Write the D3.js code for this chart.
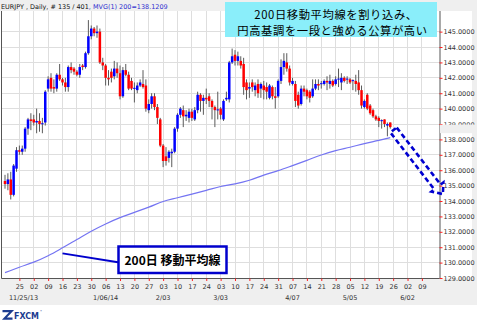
<!DOCTYPE html>
<html><head><meta charset="utf-8">
<script src="https://cdn.jsdelivr.net/npm/d3@7/dist/d3.min.js"></script>
<style>
html,body{margin:0;padding:0;background:#fff;}
svg{display:block;}
</style></head><body>
<svg id="c" width="477" height="326"></svg>
<script>
// ---------------- DATA ----------------
const symbolText = "EURJPY , Daily, # 135 / 401";
const mvgText = ", MVG(1) 200=138.1209";
const startDate = "2013-11-18";   // first bar (weekdays only)
const opens = [135.3,135.1,135.4,134.4,136.1,137.3,137.2,137.4,138.7,139.3,139.3,139.1,139.2,139.0,139.1,141.3,142.0,141.4,141.3,142.2,
141.9,141.7,141.4,142.7,142.6,142.4,142.2,142.8,142.7,143.6,144.7,145.2,144.9,145.0,143.0,142.8,142.0,142.4,142.1,142.6,
142.3,140.8,142.5,142.2,141.8,141.3,141.2,141.5,141.6,141.5,139.9,140.3,140.8,140.1,139.3,137.6,136.9,136.8,137.1,137.2,
138.7,139.6,139.9,139.5,139.4,139.8,139.3,139.9,140.9,140.5,140.7,140.8,140.5,140.1,139.9,140.0,139.3,140.6,140.6,143.0,
143.5,143.1,143.1,142.9,141.7,141.3,141.7,141.2,141.6,141.3,141.5,141.4,140.7,141.4,140.8,140.8,141.8,142.7,143.0,142.6,
141.6,141.6,140.9,140.3,141.3,141.2,141.1,140.8,141.3,141.6,141.6,141.6,141.8,141.6,141.8,141.6,141.9,141.7,142.0,141.9,
141.9,141.8,141.8,141.7,141.2,140.1,140.9,140.2,139.9,139.5,139.4,139.2,139.3,138.9,139.1];
const highs = [135.7,135.8,135.9,136.4,137.5,137.6,137.6,138.8,139.4,139.7,139.6,140.0,139.7,139.4,141.2,142.1,142.3,141.9,142.3,142.9,
142.0,142.0,142.8,143.0,142.7,142.5,142.9,142.9,143.7,145.75,145.4,145.3,145.4,145.2,143.3,142.9,142.5,142.6,143.1,143.0,
142.8,142.7,142.9,142.4,142.0,141.7,141.7,141.9,142.5,141.9,140.6,141.0,141.0,140.3,139.4,137.7,137.5,137.3,137.4,138.8,
139.7,140.1,140.2,139.9,140.0,140.0,140.1,141.1,141.0,140.9,141.3,141.0,140.6,140.2,141.1,140.1,140.6,141.1,143.1,143.9,
143.8,143.7,143.4,143.3,141.9,141.7,141.9,141.7,141.9,141.7,141.8,141.7,141.6,141.5,141.4,141.9,143.2,143.6,143.6,142.8,
142.0,141.8,141.1,141.5,141.5,141.3,141.2,141.9,141.9,141.9,141.8,141.9,142.1,142.2,141.9,142.1,142.6,142.3,142.1,142.1,
142.0,141.9,142.2,142.5,141.5,140.6,141.0,140.3,140.0,139.6,139.5,139.3,139.3,139.1,139.1];
const lows = [134.8,134.7,134.1,134.3,135.9,137.0,137.0,137.2,138.3,138.6,138.9,138.4,138.5,138.4,138.9,141.1,141.1,141.0,141.1,141.8,
141.5,141.1,141.1,142.3,142.2,142.1,142.0,142.5,142.6,143.5,144.5,144.7,144.6,142.9,142.5,141.5,141.5,141.7,141.9,142.0,
140.6,140.7,142.1,141.2,141.2,140.4,141.0,141.4,141.3,139.8,139.7,140.0,139.9,139.0,137.5,136.2,136.3,136.5,136.2,137.1,
138.5,139.4,138.8,139.2,139.1,139.2,139.2,139.7,139.8,139.6,140.3,140.1,139.3,138.8,139.3,139.3,139.2,140.5,140.4,142.9,
142.8,142.8,142.6,140.9,140.6,140.7,141.1,140.8,140.7,140.7,140.6,140.6,140.6,140.6,140.0,140.7,141.6,142.2,142.4,141.5,
141.5,140.1,140.0,140.2,140.8,140.6,140.4,140.7,141.2,141.2,141.3,141.5,141.2,141.3,141.4,141.5,141.4,141.2,141.7,141.6,
141.6,141.2,141.1,140.9,140.0,140.0,139.9,139.6,139.4,139.2,138.8,138.7,138.8,138.2,138.7];
const closes = [135.1,135.4,134.4,136.3,137.3,137.2,137.4,138.7,139.3,139.2,139.1,139.2,139.0,139.05,141.1,141.9,141.3,141.3,142.2,141.9,
141.7,141.4,142.7,142.5,142.4,142.2,142.7,142.7,143.6,144.7,145.2,144.9,145.0,143.0,142.8,142.0,141.9,142.0,142.6,142.3,
140.8,142.5,142.2,141.3,141.3,141.35,141.5,141.7,141.4,140.0,140.3,140.8,140.1,139.4,137.6,136.6,136.6,137.2,137.2,138.7,
139.6,140.0,139.5,139.6,139.8,139.4,139.9,140.9,140.5,140.7,140.6,140.5,140.1,139.9,139.95,139.6,140.5,140.7,143.0,143.4,
143.1,143.4,142.8,141.4,141.2,141.4,141.4,141.5,141.0,141.6,141.2,141.1,141.5,140.8,140.7,141.8,142.7,143.1,142.6,141.7,
141.8,140.5,140.2,141.3,141.1,140.8,140.7,141.3,141.6,141.5,141.65,141.8,141.7,141.8,141.5,141.9,141.95,142.0,141.8,141.95,
141.7,141.85,141.6,141.2,140.2,140.5,140.0,139.7,139.5,139.3,139.2,139.25,139.0,139.0,138.8];
// 200-day moving average, read every 5th bar, then the last bar
const mvgEvery5 = [129.35,129.70,130.03,130.45,130.96,131.50,132.04,132.51,132.92,133.26,133.60,133.97,134.21,134.45,
134.69,134.94,135.11,135.35,135.68,135.97,136.30,136.64,136.99,137.27,137.49,137.73,137.94];
const mvgLast = 138.1209;
const priceTicks = [129,130,131,132,133,134,135,136,137,138,139,140,141,142,143,144,145];
const dayLabels = ["25","02","09","16","23","30","06","13","20","27","03","10","17","24","03","10","17","24","31","07","14","21","28","05","12","19","26","02","09"];
const monthLabelDates = ["2013-11-25","2014-01-06","2014-02-03","2014-03-03","2014-04-07","2014-05-05","2014-06-02"];
const monthLabelTexts = ["11/25/13","1/06/14","2/03","3/03","4/07","5/05","6/02"];
const note1 = "200日移動平均線を割り込み、";
const note2 = "円高基調を一段と強める公算が高い";
const maLabel = "200日 移動平均線";

// ---------------- SETUP ----------------
const W = 477, H = 326;
const svg = d3.select("#c");
const parse = d3.timeParse("%Y-%m-%d");
const fmtKey = d3.timeFormat("%Y-%m-%d");

// trading calendar: weekdays from startDate
const dates = [];
{ let d = parse(startDate); while (dates.length < 150) { const wd = d.getDay(); if (wd !== 0 && wd !== 6) dates.push(new Date(d)); d = d3.timeDay.offset(d, 1); } }
const idxOf = s => dates.findIndex(d => fmtKey(d) === s);

const bars = opens.map((o, i) => ({i, o, h: highs[i], l: lows[i], c: closes[i]}));
const mvgPts = mvgEvery5.map((v, k) => ({i: k * 5, v})).concat([{i: bars.length - 1, v: mvgLast}]);
const weekIdx = dayLabels.map((d, k) => 5 * (k + 1));

const x = d3.scaleLinear().domain([0, 145]).range([5, 421.9]);
const y = d3.scaleLinear().domain([129, 146.34]).range([278, 11]);
const plotL = 1.5, plotR = 439.5, plotT = 11, plotB = 278.5;

// backgrounds
svg.append("rect").attr("width", W).attr("height", 305).attr("fill", "#efefef");
svg.append("rect").attr("y", 305).attr("width", W).attr("height", H - 305).attr("fill", "#fff");
svg.append("rect").attr("x", 0).attr("y", plotT).attr("width", 472).attr("height", plotB - plotT).attr("fill", "#fff");

// grid
const grid = svg.append("g").attr("shape-rendering", "crispEdges").attr("stroke", "#dedede").attr("stroke-width", 1);
grid.selectAll("line.h").data(priceTicks).join("line").attr("class", "h")
  .attr("x1", plotL).attr("x2", plotR).attr("y1", d => y(d)).attr("y2", d => y(d));
grid.selectAll("line.v").data(weekIdx.filter(i => x(i) < plotR)).join("line").attr("class", "v")
  .attr("x1", d => x(d)).attr("x2", d => x(d)).attr("y1", plotT).attr("y2", plotB);

// MVG line
svg.append("path").datum(mvgPts)
  .attr("d", d3.line().x(d => x(d.i)).y(d => y(d.v)).curve(d3.curveMonotoneX))
  .attr("fill", "none").attr("stroke", "#7474f2").attr("stroke-width", 1.2);

// candles
const cg = svg.append("g");
cg.selectAll("line").data(bars).join("line")
  .attr("x1", d => x(d.i)).attr("x2", d => x(d.i)).attr("y1", d => y(d.h)).attr("y2", d => y(d.l))
  .attr("stroke", "#5a5a5a").attr("stroke-width", 1);
cg.selectAll("rect").data(bars).join("rect")
  .attr("x", d => x(d.i) - 1.25).attr("width", 2.5)
  .attr("y", d => y(Math.max(d.o, d.c)))
  .attr("height", d => Math.max(1, Math.abs(y(d.o) - y(d.c))))
  .attr("fill", d => d.c >= d.o ? "#0000ff" : "#ff0000");

// right axis
const ra = svg.append("g").attr("transform", `translate(${plotR},0)`)
  .call(d3.axisRight(y).tickValues(priceTicks).tickSize(3).tickPadding(1).tickFormat(d => d.toFixed(4)));
ra.select(".domain").attr("stroke", "#555").attr("d", `M0.5,${plotT}V${plotB}`);
ra.selectAll(".tick line").attr("stroke", "#ff2020");
ra.selectAll(".tick text").attr("fill", "#333").attr("font-family", "DejaVu Sans").attr("font-size", 6.5);
// small marker covering part of the 139 label
svg.append("rect").attr("x", plotR + 0.5).attr("y", y(139) + 0.6).attr("width", W - plotR).attr("height", 8.5).attr("fill", "#efefef");

// bottom axis
const ba = svg.append("g").attr("transform", `translate(0,${plotB})`)
  .call(d3.axisBottom(x).tickValues(weekIdx).tickSize(2.5).tickPadding(3).tickFormat((d, k) => dayLabels[k]));
ba.select(".domain").attr("stroke", "#555").attr("d", `M${plotL},0H${plotR}`);
ba.selectAll(".tick line").attr("stroke", "#ff2020");
ba.selectAll(".tick text").attr("fill", "#333").attr("font-family", "DejaVu Sans").attr("font-size", 6.5);
svg.append("g").selectAll("text").data(monthLabelDates).join("text")
  .attr("x", (d, k) => Math.max(x(idxOf(d)), 14 + (k === 0 ? 9.5 : 0)))
  .attr("y", 299.5).attr("text-anchor", "middle")
  .attr("font-family", "DejaVu Sans").attr("font-size", 6.5).attr("fill", "#333")
  .text((d, k) => monthLabelTexts[k]);

// left border
svg.append("line").attr("x1", plotL).attr("x2", plotL).attr("y1", plotT).attr("y2", plotB).attr("stroke", "#555");

// header strip
svg.append("rect").attr("width", W).attr("height", plotT).attr("fill", "#efefef");
const hdr = svg.append("text").attr("x", 1).attr("y", 8.8).attr("font-family", "DejaVu Sans").attr("font-size", 6.5);
hdr.append("tspan").attr("fill", "#111").text(symbolText);
hdr.append("tspan").attr("fill", "#3030d0").text(mvgText);
{ const w = hdr.node().getComputedTextLength(); hdr.attr("font-size", 6.5 * 167 / w); }

// top note box
svg.append("rect").attr("x", 225).attr("y", 2).attr("width", 212).attr("height", 35).attr("fill", "#8aeefa");
const noteStyle = s => s.attr("text-anchor", "middle").attr("font-family", "Noto Sans CJK JP")
  .attr("font-size", 11.3).attr("letter-spacing", 0.6).attr("fill", "#000");
svg.append("text").attr("x", 336).attr("y", 19).call(noteStyle).text(note1);
svg.append("text").attr("x", 332.5).attr("y", 35.4).call(noteStyle).text(note2);

// dashed arrow from last bar
{
  const S = [x(bars.length) + 0.4, y(138.61)], T = [x(152.3), y(134.45)];
  const dx = T[0] - S[0], dy = T[1] - S[1], L = Math.hypot(dx, dy);
  const u = [dx / L, dy / L], n = [u[1], -u[0]];
  const hw = 4, hh = 7.5, headL = 9;
  const B = [T[0] - u[0] * headL, T[1] - u[1] * headL];
  const P = (p, a, b) => [p[0] + n[0] * a + u[0] * b, p[1] + n[1] * a + u[1] * b];
  const pts = [P(S, hw, 0), P(B, hw, 0), P(B, hh, 0), T, P(B, -hh, 0), P(B, -hw, 0), P(S, -hw, 0)];
  svg.append("path").attr("d", d3.line()(pts) + "Z")
    .attr("fill", "none").attr("stroke", "#0000d0").attr("stroke-width", 2.6)
    .attr("stroke-dasharray", "5,3").attr("stroke-linejoin", "miter");
}

// MA label box + pointer
svg.append("line").attr("x1", x(20)).attr("y1", y(130.6)).attr("x2", 118).attr("y2", 262.3)
  .attr("stroke", "#0000cc").attr("stroke-width", 2);
svg.append("rect").attr("x", 118.5).attr("y", 246.5).attr("width", 108).attr("height", 26.5)
  .attr("fill", "#fff").attr("stroke", "#0000cc").attr("stroke-width", 2.5);
svg.append("text").attr("x", 172.5).attr("y", 264.5).attr("text-anchor", "middle")
  .attr("font-family", "Noto Sans CJK JP").attr("font-weight", "bold").attr("font-size", 12).attr("fill", "#000").text(maLabel);

// FXCM logo
svg.append("path").attr("d", "M2.5,311.2 H11.5 L4.5,318.6 H12.5").attr("fill", "none")
  .attr("stroke", "#1c3c90").attr("stroke-width", 2.2);
svg.append("text").attr("x", 14).attr("y", 318.5).attr("font-family", "DejaVu Sans").attr("font-weight", "bold")
  .attr("font-size", 8.5).attr("fill", "#1c3c90").attr("textLength", 25).attr("lengthAdjust", "spacingAndGlyphs").text("FXCM");
svg.append("text").attr("x", 40).attr("y", 312.5).attr("font-family", "DejaVu Sans").attr("font-size", 4).attr("fill", "#1c3c90").text("°");
</script>
</body></html>
